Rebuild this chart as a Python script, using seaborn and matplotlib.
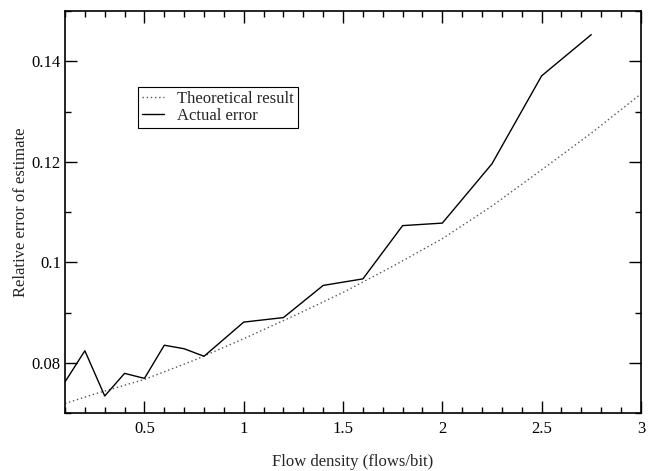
import numpy as np
import pandas as pd
import matplotlib
matplotlib.use("Agg")
import matplotlib.pyplot as plt
import seaborn as sns
from matplotlib.ticker import MultipleLocator

# Actual measured error
actual_x = [0.1, 0.2, 0.3, 0.4, 0.5, 0.6, 0.7, 0.8, 0.9, 1.0, 1.2, 1.4, 1.6, 1.8, 2.0, 2.25, 2.5, 2.75]
actual_y = [0.0762, 0.0824, 0.0734, 0.0779, 0.0769, 0.0835, 0.0828, 0.0813, 0.0847, 0.0881, 0.0890, 0.0954, 0.0967, 0.1073, 0.1078, 0.1196, 0.1371, 0.1453]

# Theoretical result
theory_x = [0.1, 0.25, 0.5, 0.75, 1.0, 1.25, 1.5, 1.75, 2.0, 2.25, 2.5, 2.75, 3.0]
theory_y = [0.0719, 0.0738, 0.0767, 0.0805, 0.0848, 0.0893, 0.0940, 0.0992, 0.1047, 0.1112, 0.1184, 0.1257, 0.1335]

sns.set_style("ticks")
plt.rcParams['font.family'] = ['Liberation Serif', 'DejaVu Serif']
plt.rcParams['font.size'] = 12

fig = plt.figure(figsize=(6.54, 4.71), dpi=100)
ax = fig.add_axes([0.0994, 0.123, 0.8806, 0.8536])

theory_df = pd.DataFrame({'x': theory_x, 'y': theory_y})
actual_df = pd.DataFrame({'x': actual_x, 'y': actual_y})

sns.lineplot(data=theory_df, x='x', y='y', ax=ax, color='#555555', linewidth=1.0,
             linestyle=(0, (1, 2)), label='Theoretical result')
sns.lineplot(data=actual_df, x='x', y='y', ax=ax, color='black', linewidth=1.0,
             label='Actual error')

ax.set_xlim(0.1, 3)
ax.set_ylim(0.07, 0.15)
ax.xaxis.set_minor_locator(MultipleLocator(0.1))
ax.yaxis.set_minor_locator(MultipleLocator(0.01))
ax.set_xticks([0.5, 1, 1.5, 2, 2.5, 3])
ax.set_xticklabels(['0.5', '1', '1.5', '2', '2.5', '3'])
ax.set_yticks([0.08, 0.1, 0.12, 0.14])
ax.set_yticklabels(['0.08', '0.1', '0.12', '0.14'])

ax.tick_params(which='both', direction='in', top=True, right=True, width=1.0, colors='black')
ax.tick_params(which='major', length=8.4)
ax.tick_params(which='minor', length=4.5)
ax.tick_params(axis='x', which='major', pad=6)
ax.tick_params(axis='y', which='major', pad=3)
for s in ax.spines.values():
    s.set_linewidth(1.2)
    s.set_color('black')

ax.set_xlabel('Flow density (flows/bit)', labelpad=12)
ax.set_ylabel('Relative error of estimate', labelpad=2)

leg = ax.legend(loc='upper left', bbox_to_anchor=(0.127, 0.811), frameon=True, fancybox=False,
                edgecolor='black', framealpha=1, borderpad=0.25, handlelength=1.3,
                handletextpad=0.8, labelspacing=0.05, borderaxespad=0)
leg.get_frame().set_linewidth(0.8)

fig.savefig('out.png', dpi=100)
